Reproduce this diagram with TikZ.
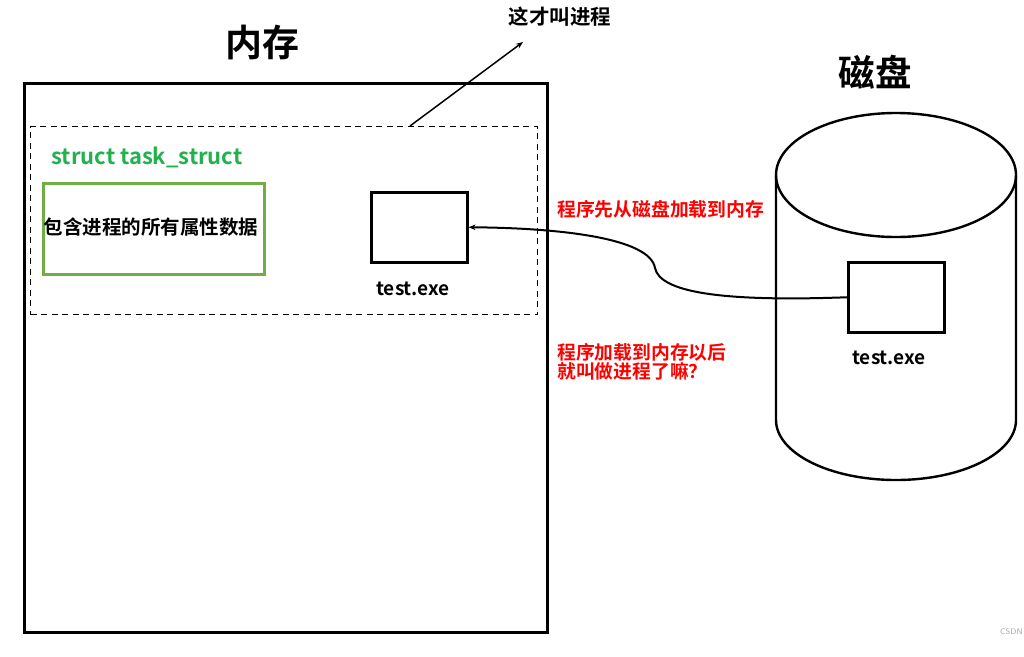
\documentclass[tikz,border=0pt]{standalone}
\usepackage{fontspec}
\usetikzlibrary{arrows.meta}
\newfontfamily\cjk{Noto Sans CJK SC}[BoldFont={Noto Sans CJK SC Bold}]
\definecolor{txtgreen}{HTML}{22B14C}
\definecolor{boxgreen}{HTML}{70AD47}
\tikzset{
  plainbox/.style={draw=black, line width=2.5pt, inner sep=0pt, anchor=north west},
  dashbox/.style={draw=black, line width=1.4pt, dash pattern=on 6pt off 4.5pt, inner sep=0pt, anchor=north west},
  greenbox/.style={draw=boxgreen, line width=2.8pt, inner sep=0pt, anchor=north west},
  lbl/.style={font=\cjk\bfseries\fontsize{19}{21}\selectfont, inner sep=0pt},
  redlbl/.style={font=\cjk\bfseries\fontsize{18.8}{20}\selectfont, text=red, inner sep=0pt, anchor=west, align=left},
  title/.style={font=\cjk\bfseries\fontsize{37}{40}\selectfont, inner sep=0pt},
  conn/.style={line width=2pt, -{Stealth[length=7pt,width=5.5pt]}},
}
\begin{document}
\begin{tikzpicture}[x=1pt,y=-1pt]
\useasboundingbox[fill=white] (0,0) rectangle (1024,656);
% memory
\node[title] (memtitle) at (262,42) {内存};
\node[plainbox, minimum width=523pt, minimum height=549pt] (mem) at (23,82) {};
\node[dashbox, minimum width=507pt, minimum height=188pt] (proc) at (30,126) {};
\node[font=\cjk\bfseries\fontsize{22}{24}\selectfont, text=txtgreen, inner sep=0pt] (ts) at (147,157) {struct task\_struct};
\node[greenbox, minimum width=221pt, minimum height=91pt] (attr) at (42,182) {};
\node[font=\cjk\bfseries\fontsize{19.5}{21}\selectfont, inner sep=0pt] (attrtxt) at (151,227) {包含进程的所有属性数据};
\node[plainbox, minimum width=96pt, minimum height=70pt] (memexe) at (370,191) {};
\node[lbl] (memexelbl) at (413,289) {test.exe};
% process annotation
\coordinate (ptip) at (523,42);
\coordinate (pstart) at (410,126);
\draw[line width=1.5pt, -{Stealth[length=7pt,width=5.5pt]}] (pstart) -- (ptip);
\node[font=\cjk\bfseries\fontsize{20.5}{22}\selectfont, inner sep=0pt] (ptxt) at (560,17) {这才叫进程};
% disk
\node[title, font=\cjk\bfseries\fontsize{36.5}{40}\selectfont] (disktitle) at (875,72) {磁盘};
\draw[line width=2.4pt] (896,175) ellipse [x radius=120, y radius=62];
\draw[line width=2.4pt] (776,175) -- (776,420) arc[start angle=180, end angle=0, x radius=120, y radius=60] -- (1016,175);
\node[plainbox, minimum width=96pt, minimum height=70pt] (diskexe) at (847,261) {};
\node[lbl] (diskexelbl) at (889,358) {test.exe};
% load connector
\draw[conn] (diskexe.west) .. controls (720,302) and (660,292) .. (655,268)
  .. controls (650,238) and (560,228) .. (memexe.east);
% red notes
\node[redlbl] (note1) at (557,209) {程序先从磁盘加载到内存};
\node[redlbl] (note2) at (557,362) {程序加载到内存以后\\[-1pt]就叫做进程了嘛？};
% watermark
\node[font=\sffamily\fontsize{8}{9}\selectfont, text=gray!70, anchor=west, inner sep=0pt] (wm) at (1000,632) {CSDN};
\end{tikzpicture}
\end{document}
